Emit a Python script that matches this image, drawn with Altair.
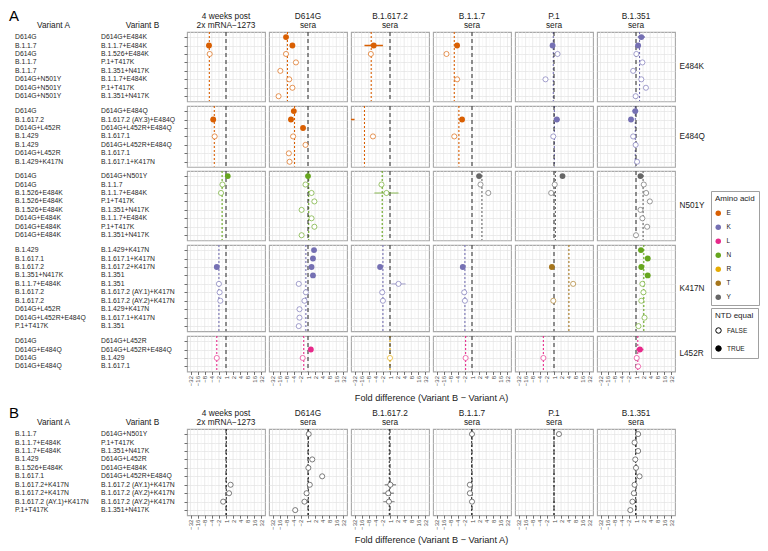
import altair as alt
import pandas as pd

# ---------------- data ----------------
SERA = ["mRNA-1273", "D614G", "B.1.617.2", "B.1.1.7", "P.1", "B.1.351"]
SERA_TITLES = [["4 weeks post", "2x mRNA\u22121273"], ["D614G", "sera"], ["B.1.617.2", "sera"],
               ["B.1.1.7", "sera"], ["P.1", "sera"], ["B.1.351", "sera"]]
AA_DOMAIN = ["E", "K", "L", "N", "R", "T", "Y"]
AA_COLORS = ["#D95F02", "#7570B3", "#E7298A", "#66A61E", "#E6AB02", "#A6761D", "#666666"]
TICK_VALUES = [-5, -4, -3, -2, -1, 0, 1, 2, 3, 4, 5]
MINOR_VALUES = [-4.5, -3.5, -2.5, -1.5, -0.5, 0.5, 1.5, 2.5, 3.5, 4.5]
NTD_DOMAIN = ["FALSE", "TRUE"]

# --- E484K
E484K_variant_a = ["D614G", "B.1.1.7", "D614G", "B.1.1.7", "B.1.1.7", "D614G+N501Y", "D614G+N501Y", "D614G+N501Y"]
E484K_variant_b = ["D614G+E484K", "B.1.1.7+E484K", "B.1.526+E484K", "P.1+T417K", "B.1.351+N417K",
                   "B.1.1.7+E484K", "P.1+T417K", "B.1.351+N417K"]
E484K_ntd = ["TRUE", "TRUE", "FALSE", "FALSE", "FALSE", "FALSE", "FALSE", "FALSE"]
E484K_aa = ["E", "E", "E", "E", "K", "K"]
E484K_fold = {
    "mRNA-1273": [None, -2.4, -2.3, None, None, None, None, None],
    "D614G": [-3.1, -2.2, -3.1, -1.7, -3.9, -2.65, -2.2, -4.15],
    "B.1.617.2": [None, -2.3, -2.7, None, None, None, None, None],
    "B.1.1.7": [None, -2.1, -3.6, None, None, -2.1, None, None],
    "P.1": [None, -0.2, 0.5, None, None, -1.2, None, None],
    "B.1.351": [0.75, 0.3, 0.05, 0.9, -0.4, 0.75, 1.4, -0.05],
}
E484K_err = {
    "mRNA-1273": [None, 0.35, 0.15, None, None, None, None, None],
    "D614G": [0.3, 0.3, 0.2, 0.2, 0.25, 0.2, 0.2, 0.25],
    "B.1.617.2": [None, 1.3, 0.2, None, None, None, None, None],
    "B.1.1.7": [None, 0.3, 0.25, None, None, 0.2, None, None],
    "P.1": [None, 0.3, 0.25, None, None, 0.3, None, None],
    "B.1.351": [0.5, 0.35, 0.3, 0.3, 0.3, 0.3, 0.3, 0.3],
}
E484K_mean = [-2.35, -2.9, -2.65, -2.5, -0.1, 0.5]

# --- E484Q
E484Q_variant_a = ["D614G", "B.1.617.2", "D614G+L452R", "B.1.429", "B.1.429", "D614G+L452R", "B.1.429+K417N"]
E484Q_variant_b = ["D614G+E484Q", "B.1.617.2 (AY.3)+E484Q", "D614G+L452R+E484Q", "B.1.617.1",
                   "D614G+L452R+E484Q", "B.1.617.1", "B.1.617.1+K417N"]
E484Q_ntd = ["TRUE", "TRUE", "TRUE", "FALSE", "FALSE", "FALSE", "FALSE"]
E484Q_aa = ["E", "E", "E", "E", "K", "K"]
E484Q_fold = {
    "mRNA-1273": [None, -1.8, None, -1.6, None, None, None],
    "D614G": [-2.0, -2.4, -0.7, -2.1, -0.35, -2.7, -2.6],
    "B.1.617.2": [None, -6.3, None, -2.4, None, None, None],
    "B.1.1.7": [None, -1.4, None, -2.5, None, None, None],
    "P.1": [None, 0.4, None, -0.1, None, None, None],
    "B.1.351": [-0.1, -0.7, None, -0.4, -0.05, None, 0.15],
}
E484Q_err = {
    "mRNA-1273": [None, 0.35, None, 0.2, None, None, None],
    "D614G": [0.3, 0.35, 0.3, 0.2, 0.2, 0.2, 0.2],
    "B.1.617.2": [None, 1.3, None, 0.2, None, None, None],
    "B.1.1.7": [None, 0.3, None, 0.2, None, None, None],
    "P.1": [None, 0.4, None, 0.2, None, None, None],
    "B.1.351": [0.4, 0.35, None, 0.3, 0.3, None, 0.3],
}
E484Q_mean = [-1.65, -1.9, -3.6, -1.85, 0.05, -0.1]

# --- N501Y
N501Y_variant_a = ["D614G", "D614G", "B.1.526+E484K", "B.1.526+E484K", "B.1.526+E484K",
                   "D614G+E484K", "D614G+E484K", "D614G+E484K"]
N501Y_variant_b = ["D614G+N501Y", "B.1.1.7", "B.1.1.7+E484K", "P.1+T417K", "B.1.351+N417K",
                   "B.1.1.7+E484K", "P.1+T417K", "B.1.351+N417K"]
N501Y_ntd = ["TRUE", "FALSE", "FALSE", "FALSE", "FALSE", "FALSE", "FALSE", "FALSE"]
N501Y_aa = ["N", "N", "N", "Y", "Y", "Y"]
N501Y_fold = {
    "mRNA-1273": [0.25, -0.5, -0.7, None, None, None, None, None],
    "D614G": [0.0, -0.35, 0.5, 0.9, -0.9, 0.5, 0.9, -0.9],
    "B.1.617.2": [None, -1.2, -0.5, None, None, None, None, None],
    "B.1.1.7": [1.0, 1.2, 2.3, None, None, None, None, None],
    "P.1": [1.2, 0.1, -0.4, None, None, None, None, None],
    "B.1.351": [0.63, 1.1, 1.43, 1.95, 0.63, 0.9, 1.57, 0.0],
}
N501Y_err = {
    "mRNA-1273": [0.3, 0.2, 0.2, None, None, None, None, None],
    "D614G": [0.3, 0.2, 0.25, 0.25, 0.25, 0.25, 0.25, 0.25],
    "B.1.617.2": [None, 0.2, 1.7, None, None, None, None, None],
    "B.1.1.7": [0.35, 0.2, 0.2, None, None, None, None, None],
    "P.1": [0.35, 0.2, 0.2, None, None, None, None, None],
    "B.1.351": [0.35, 0.3, 0.3, 0.3, 0.3, 0.3, 0.35, 0.3],
}
N501Y_mean = [-0.55, 0.1, -1.1, 1.4, 0.2, 1.0]

# --- K417N
K417N_variant_a = ["B.1.429", "B.1.617.1", "B.1.617.2", "B.1.351+N417K", "B.1.1.7+E484K", "B.1.617.2",
                   "B.1.617.2", "D614G+L452R", "D614G+L452R+E484Q", "P.1+T417K"]
K417N_variant_b = ["B.1.429+K417N", "B.1.617.1+K417N", "B.1.617.2+K417N", "B.1.351", "B.1.351",
                   "B.1.617.2 (AY.1)+K417N", "B.1.617.2 (AY.2)+K417N", "B.1.429+K417N",
                   "B.1.617.1+K417N", "B.1.351"]
K417N_ntd = ["TRUE", "TRUE", "TRUE", "TRUE", "FALSE", "FALSE", "FALSE", "FALSE", "FALSE", "FALSE"]
K417N_aa = ["K", "K", "K", "K", "T", "N"]
K417N_fold = {
    "mRNA-1273": [None, None, -1.3, None, -1.0, -0.9, -0.8, None, None, None],
    "D614G": [0.85, 0.7, 0.5, 0.7, -1.3, -0.3, -0.5, -1.2, -1.2, -1.3],
    "B.1.617.2": [None, None, -1.4, None, 1.2, -1.1, -1.0, None, None, None],
    "B.1.1.7": [None, None, -1.3, None, None, -1.1, -1.0, None, None, None],
    "P.1": [None, None, -0.3, None, 2.7, None, -0.1, None, None, None],
    "B.1.351": [0.7, 1.65, 0.75, 1.65, 0.9, 1.05, 0.75, None, 1.2, 0.35],
}
K417N_err = {
    "mRNA-1273": [None, None, 0.3, None, 0.2, 0.2, 0.2, None, None, None],
    "D614G": [0.3, 0.3, 0.3, 0.3, 0.2, 0.2, 0.2, 0.2, 0.2, 0.2],
    "B.1.617.2": [None, None, 0.3, None, 1.0, 0.3, 0.3, None, None, None],
    "B.1.1.7": [None, None, 0.3, None, None, 0.3, 0.3, None, None, None],
    "P.1": [None, None, 0.3, None, 0.3, None, 0.3, None, None, None],
    "B.1.351": [0.35, 0.35, 0.35, 0.35, 0.3, 0.3, 0.3, None, 0.35, 0.3],
}
K417N_mean = [-1.0, -0.3, -1.0, -1.0, 2.1, 1.1]

# --- L452R
L452R_variant_a = ["D614G", "D614G+E484Q", "D614G", "D614G+E484Q"]
L452R_variant_b = ["D614G+L452R", "D614G+L452R+E484Q", "B.1.429", "B.1.617.1"]
L452R_ntd = ["TRUE", "TRUE", "FALSE", "FALSE"]
L452R_aa = ["L", "L", "R", "L", "L", "L"]
L452R_fold = {
    "mRNA-1273": [None, None, -1.3, None],
    "D614G": [None, 0.4, -0.75, None],
    "B.1.617.2": [None, None, 0.0, None],
    "B.1.1.7": [None, None, -0.9, None],
    "P.1": [None, None, -1.5, None],
    "B.1.351": [None, 0.55, 0.1, 0.3],
}
L452R_err = {
    "mRNA-1273": [None, None, 0.2, None],
    "D614G": [None, 0.3, 0.3, None],
    "B.1.617.2": [None, None, 0.2, None],
    "B.1.1.7": [None, None, 0.2, None],
    "P.1": [None, None, 0.3, None],
    "B.1.351": [None, 0.5, 0.2, 0.3],
}
L452R_mean = [-1.3, -0.6, 0.0, -0.9, -1.5, 0.25]

# --- Section B (NTD comparisons)
B_variant_a = ["B.1.1.7", "B.1.1.7+E484K", "B.1.1.7+E484K", "B.1.429", "B.1.526+E484K", "B.1.617.1",
               "B.1.617.2+K417N", "B.1.617.2+K417N", "B.1.617.2 (AY.1)+K417N", "P.1+T417K"]
B_variant_b = ["D614G+N501Y", "P.1+T417K", "B.1.351+N417K", "D614G+L452R", "D614G+E484K",
               "D614G+L452R+E484Q", "B.1.617.2 (AY.1)+K417N", "B.1.617.2 (AY.2)+K417N",
               "B.1.617.2 (AY.2)+K417N", "B.1.351+N417K"]
B_ntd = ["FALSE"] * 10
B_aa = [None] * 6
B_fold = {
    "mRNA-1273": [None, None, None, None, None, None, 0.65, 0.43, -0.4, None],
    "D614G": [0.1, None, None, 0.6, 0.05, 2.0, 0.25, -0.2, -0.5, -1.8],
    "B.1.617.2": [None, None, None, None, None, None, 0.05, -0.25, -0.15, None],
    "B.1.1.7": [0.0, None, None, None, None, None, -0.3, -0.3, 0.0, None],
    "P.1": [0.7, None, None, None, None, None, None, None, None, None],
    "B.1.351": [0.3, -0.2, 0.3, -0.1, 0.0, 0.5, -0.2, -0.3, -0.5, -0.8],
}
B_err = {
    "mRNA-1273": [None, None, None, None, None, None, 0.3, 0.3, 0.3, None],
    "D614G": [0.2, None, None, 0.2, 0.2, 0.2, 0.2, 0.2, 0.2, 0.2],
    "B.1.617.2": [None, None, None, None, None, None, 0.8, 0.8, 0.8, None],
    "B.1.1.7": [0.2, None, None, None, None, None, 0.2, 0.2, 0.2, None],
    "P.1": [0.2, None, None, None, None, None, None, None, None, None],
    "B.1.351": [0.2, 0.2, 0.2, 0.2, 0.2, 0.2, 0.2, 0.2, 0.2, 0.2],
}
B_mean = [0.05, 0.05, -0.1, -0.05, 0.0, -0.05]

GROUPS_A = [
    ("E484K", E484K_variant_a, E484K_variant_b, E484K_ntd, E484K_aa, E484K_fold, E484K_err, E484K_mean),
    ("E484Q", E484Q_variant_a, E484Q_variant_b, E484Q_ntd, E484Q_aa, E484Q_fold, E484Q_err, E484Q_mean),
    ("N501Y", N501Y_variant_a, N501Y_variant_b, N501Y_ntd, N501Y_aa, N501Y_fold, N501Y_err, N501Y_mean),
    ("K417N", K417N_variant_a, K417N_variant_b, K417N_ntd, K417N_aa, K417N_fold, K417N_err, K417N_mean),
    ("L452R", L452R_variant_a, L452R_variant_b, L452R_ntd, L452R_aa, L452R_fold, L452R_err, L452R_mean),
]
GROUP_B = (None, B_variant_a, B_variant_b, B_ntd, B_aa, B_fold, B_err, B_mean)

# ---------------- layout / style ----------------
FONT = "Liberation Sans"
XMAX = 5.5
STEP = 8.45
PAD = 0.6
PANEL_W = 78
GAP = 4
TEXT_A_W = 88
TEXT_B_W = 82
GREY = "#3a3a3a"
LX = 702
LY1 = 159
LY2 = 276
TXT = "#1a1a1a"
GRID = "#e3e3e3"
LABEL_EXPR = "datum.value < 0 ? '\u2212' + pow(2, -datum.value) : '' + pow(2, datum.value)"

CS = alt.Scale(domain=AA_DOMAIN, range=AA_COLORS)
FS = alt.Scale(domain=NTD_DOMAIN, range=["white", "black"])
LEG_COMMON = dict(orient="none", legendX=LX, symbolType="circle", symbolSize=30, strokeColor="#a0a0a0",
                  padding=4, rowPadding=7, titlePadding=7, titleFontSize=8, labelFontSize=6.5,
                  symbolOpacity=1, labelOffset=5)
AA_LEGEND = alt.Legend(title="Amino acid", legendY=LY1, symbolStrokeWidth=0, **LEG_COMMON)
NTD_LEGEND = alt.Legend(title="NTD equal", legendY=LY2, symbolStrokeColor="black", symbolStrokeWidth=1,
                        **LEG_COMMON)


def x_axis(bottom, with_title, title_y):
    if not bottom:
        return None
    kw = dict(values=TICK_VALUES, labelExpr=LABEL_EXPR, labelAngle=270, labelFontSize=6, labelPadding=1,
              labelFlush=False, labelOverlap=False, ticks=True, tickSize=3, tickWidth=0.8,
              domain=False, grid=False, title=None)
    if with_title:
        kw.update(title="Fold difference (Variant B \u2212 Variant A)", titleX=PANEL_W + GAP / 2, titleY=title_y,
                  titleAlign="center", titleBaseline="top", titleFontSize=9.2)
    return alt.Axis(**kw)


def y_axis(col, rowlab):
    if col == 0:
        return alt.Axis(labels=False, ticks=True, tickSize=3, tickWidth=0.8, domain=False, grid=True, title=None)
    if col == len(SERA) - 1 and rowlab:
        return alt.Axis(orient="right", labels=False, ticks=False, domain=False, grid=True, title=rowlab,
                        titleAngle=0, titleAlign="left", titleBaseline="middle", titlePadding=4,
                        titleFontSize=8.2)
    return alt.Axis(labels=False, ticks=False, domain=False, grid=True, title=None)


def text_col(labels, ys, h, width, dx, header, section):
    df = pd.DataFrame({"r": list(range(len(labels))), "t": labels})
    if header:
        xax = alt.Axis(orient="top", title=header, labels=False, ticks=False, domain=False, grid=False,
                       titlePadding=3, titleFontSize=8.3)
    else:
        xax = None
    ch = alt.Chart(df).mark_text(align="left", baseline="middle", fontSize=6.8, dx=dx, color="#262626").encode(
        x=alt.X(datum=0, scale=alt.Scale(domain=[0, 1]), axis=xax),
        y=alt.Y("r:O", scale=ys, axis=None),
        text="t:N",
    ).properties(width=width, height=h, view=alt.ViewBackground(stroke="transparent"))
    if section:
        ch = ch.properties(title=alt.TitleParams(section, anchor="start", fontSize=15, offset=-4, color="black"))
    return ch


def panel(n, ys, h, vals, errs, ntd, aa, mean, col, top, bottom, rowlab, grey, title_y):
    recs = []
    for i in range(n):
        if vals[i] is None:
            continue
        recs.append({"r": i, "v": vals[i], "lo": vals[i] - errs[i], "hi": vals[i] + errs[i],
                     "ntd": ntd[i], "aa": aa if aa else "NA"})
    df = pd.DataFrame(recs, columns=["r", "v", "lo", "hi", "ntd", "aa"])
    mdf = pd.DataFrame({"mean": [mean], "aa": [aa if aa else "NA"]})
    xs = alt.Scale(domain=[-XMAX, XMAX], nice=False, zero=False)
    xa = x_axis(bottom, col == 2, title_y)
    ya = y_axis(col, rowlab)
    if grey:
        colr = alt.value(GREY)
    else:
        colr = alt.Color("aa:N", scale=CS, legend=AA_LEGEND)

    minor = alt.Chart(pd.DataFrame({"m": MINOR_VALUES})).mark_rule(color="#f1f1f1", strokeWidth=0.6).encode(
        x=alt.X("m:Q", scale=xs, axis=xa))
    major = alt.Chart(pd.DataFrame({"m": TICK_VALUES})).mark_rule(color=GRID, strokeWidth=0.7).encode(
        x=alt.X("m:Q", scale=xs, axis=xa))
    meanl = alt.Chart(mdf).mark_rule(strokeDash=[2, 2], strokeWidth=1.1, clip=True).encode(
        x=alt.X("mean:Q", scale=xs, axis=xa), color=colr)
    zero = alt.Chart(mdf).mark_rule(strokeDash=[4, 3], strokeWidth=1, color="#262626").encode(
        x=alt.X(datum=0, scale=xs, axis=xa))
    bars_open = alt.Chart(df).transform_filter(alt.datum.ntd == "FALSE").mark_rule(
        strokeWidth=1.4, clip=True, opacity=0.5).encode(
        x=alt.X("lo:Q", scale=xs, axis=xa), x2="hi:Q",
        y=alt.Y("r:O", scale=ys, axis=ya), color=colr)
    openp = alt.Chart(df).transform_filter(alt.datum.ntd == "FALSE").mark_point(
        shape="circle", size=26, strokeWidth=1, strokeOpacity=0.65, fillOpacity=1, opacity=1, clip=True).encode(
        x=alt.X("v:Q", scale=xs, axis=xa),
        y=alt.Y("r:O", scale=ys, axis=ya),
        color=colr,
        fill=alt.Fill("ntd:N", scale=FS, legend=NTD_LEGEND))
    layers = [minor, major, meanl, zero, bars_open, openp]
    if not grey:
        bars_filled = alt.Chart(df).transform_filter(alt.datum.ntd == "TRUE").mark_rule(
            strokeWidth=1.4, clip=True, opacity=1).encode(
            x=alt.X("lo:Q", scale=xs, axis=xa), x2="hi:Q",
            y=alt.Y("r:O", scale=ys, axis=ya), color=colr)
        filledp = alt.Chart(df).transform_filter(alt.datum.ntd == "TRUE").mark_point(
            shape="circle", size=34, filled=True, opacity=1, clip=True).encode(
            x=alt.X("v:Q", scale=xs, axis=xa),
            y=alt.Y("r:O", scale=ys, axis=ya),
            color=colr)
        layers += [bars_filled, filledp]
    ch = alt.layer(*layers).properties(width=PANEL_W, height=h)
    if top:
        ch = ch.properties(title=alt.TitleParams(SERA_TITLES[col], fontSize=8.3, offset=2, lineHeight=9.5))
    return ch


def build_row(group, top, bottom, section, grey, title_y=20):
    rowlab, va, vb, ntd, aa, fold, err, mean = group
    n = len(va)
    h = (n - 1 + 2 * PAD) * STEP
    ys = alt.Scale(type="point", domain=list(range(n)), padding=PAD)
    ta = text_col(va, ys, h, TEXT_A_W, 6, "Variant A" if top else None, section)
    tb = text_col(vb, ys, h, TEXT_B_W, 0, "Variant B" if top else None, None)
    panels = []
    for col, serum in enumerate(SERA):
        panels.append(panel(n, ys, h, fold[serum], err[serum], ntd, aa[col], mean[col], col,
                            top, bottom, rowlab, grey, title_y))
    return alt.hconcat(ta, tb, *panels, spacing=GAP, bounds="flush")


rows = []
for gi, g in enumerate(GROUPS_A):
    rows.append(build_row(g, gi == 0, gi == len(GROUPS_A) - 1, "A" if gi == 0 else None, False, 22))
rows.append(build_row(GROUP_B, True, True, "B", True, 20))

chart = alt.vconcat(*rows, spacing=1).properties(padding=0).configure(font=FONT).configure_view(
    stroke="#a8a8a8", strokeWidth=1.1
).configure_axis(
    gridColor=GRID, gridWidth=0.7, labelFont=FONT, titleFont=FONT, titleFontWeight="normal",
    titleColor=TXT, labelColor="#4d4d4d", tickColor="#4d4d4d"
).configure_title(
    font=FONT, fontSize=8.3, fontWeight="normal", color=TXT, offset=2
).configure_legend(
    titleFont=FONT, labelFont=FONT, titleFontWeight="normal", titleColor=TXT, labelColor=TXT
)

chart.save("out.html", embed_options={"renderer": "svg", "actions": False})
